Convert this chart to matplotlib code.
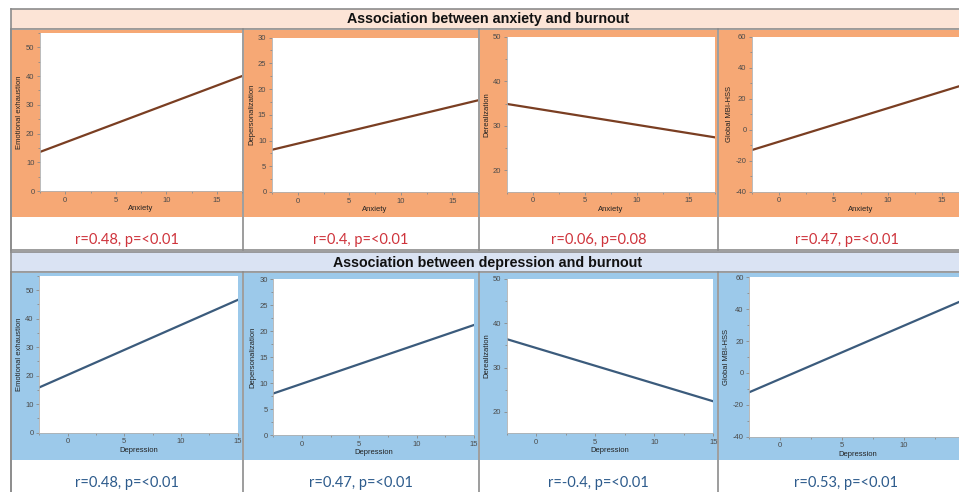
import matplotlib.pyplot as plt
from matplotlib.patches import Rectangle
from matplotlib.ticker import MultipleLocator, FixedLocator

plt.rcParams['axes.unicode_minus'] = False

# data
outcomes = ["Emotional exhaustion", "Depersonalization", "Derealization", "Global MBI-HSS"]
y_limits = [(0, 55), (0, 30), (15.2, 50), (-40, 60)]
y_major = [10, 5, 10, 20]

anxiety_x = [-2.5, 17.5]
anxiety_fit_start = [13.6, 8.2, 34.9, -13.1]
anxiety_fit_end = [40.0, 17.8, 27.4, 30.0]
anxiety_stats = ["r=0.48, p=<0.01", "r=0.4, p=<0.01", "r=0.06, p=0.08", "r=0.47, p=<0.01"]

depression_x = [-2.5, 15]
depression_fit_start = [15.9, 8.0, 36.4, -12.1]
depression_fit_end = [46.6, 21.2, 22.4, 46.4]
depression_stats = ["r=0.48, p=<0.01", "r=0.47, p=<0.01", "r=-0.4, p=<0.01", "r=0.53, p=<0.01"]

W, H = 959, 492
fig = plt.figure(figsize=(W / 100, H / 100), dpi=100)
bg = fig.add_axes([0, 0, 1, 1])
bg.set_xlim(0, W)
bg.set_ylim(H, 0)
bg.axis("off")

col_edges = [11, 243, 479, 718, 975]
grid_col = "#8c8c8c"


def px_axes(x0, y0, x1, y1):
    return fig.add_axes([x0 / W, 1 - y1 / H, (x1 - x0) / W, (y1 - y0) / H])


# section blocks: header row, panel row, text row
sections = [
    dict(top=9, head_bot=29, panel_bot=217, text_bot=250, text_y=240,
         head="#fce4d6", panel="#f6a875", line="#7a3e22", txt="#cf343c",
         title="Association between anxiety and burnout",
         xlab="Anxiety", xr=anxiety_x, y0=anxiety_fit_start, y1=anxiety_fit_end,
         stats=anxiety_stats,
         plots=[(40, 33, 242, 191), (272, 37.5, 478, 192), (507, 36.7, 715, 191.7), (752, 36.7, 969, 191.7)]),
    dict(top=252, head_bot=272, panel_bot=460, text_bot=495, text_y=483,
         head="#dae3f3", panel="#9cc9ea", line="#3b5b7c", txt="#2d5b8c",
         title="Association between depression and burnout",
         xlab="Depression", xr=depression_x, y0=depression_fit_start, y1=depression_fit_end,
         stats=depression_stats,
         plots=[(39.3, 276, 237.7, 432.7), (273.3, 279.3, 474, 435), (506.7, 278.7, 713.3, 433.3), (749.3, 277.3, 966, 436.7)]),
]

for s in sections:
    bg.add_patch(Rectangle((col_edges[0], s["top"]), W, s["head_bot"] - s["top"],
                           facecolor=s["head"], edgecolor="none"))
    bg.text(488, (s["top"] + s["head_bot"]) / 2 + 0.5, s["title"],
            ha="center", va="center", fontsize=10.3, fontweight="bold",
            family="Liberation Sans", color="#111111")
    bg.plot([col_edges[0], W], [s["top"], s["top"]], color=grid_col, lw=1.2)
    bg.plot([col_edges[0], W], [s["head_bot"], s["head_bot"]], color=grid_col, lw=1.2)
    for i in range(4):
        x0, x1 = col_edges[i], col_edges[i + 1]
        bg.add_patch(Rectangle((x0 + 1, s["head_bot"] + 1), x1 - x0 - 2, s["panel_bot"] - s["head_bot"] - 1,
                               facecolor=s["panel"], edgecolor="none"))
        bg.text((x0 + x1) / 2, s["text_y"], s["stats"][i],
                ha="center", va="center", fontsize=10.5, family="Lato", color=s["txt"])
        bg.plot([x0, x0], [s["head_bot"], s["text_bot"]], color=grid_col, lw=1.2)

        ax = px_axes(*s["plots"][i])
        ax.plot(s["xr"], [s["y0"][i], s["y1"][i]], color=s["line"], lw=1.6)
        ax.set_xlim(s["xr"])
        ax.set_ylim(y_limits[i])
        ax.xaxis.set_major_locator(MultipleLocator(5))
        ax.xaxis.set_minor_locator(MultipleLocator(2.5))
        ax.yaxis.set_major_locator(MultipleLocator(y_major[i]))
        ax.yaxis.set_minor_locator(MultipleLocator(y_major[i] / 2))
        # last column runs past the picture edge; drop labels that would be cut
        if s["plots"][i][0] + (s["plots"][i][2] - s["plots"][i][0]) * (15 - s["xr"][0]) / (s["xr"][1] - s["xr"][0]) > W - 8:
            ax.xaxis.set_major_locator(FixedLocator([0, 5, 10]))
        ax.tick_params(which="both", direction="out", colors="#8a8a8a", labelcolor="#4a4a4a",
                       labelsize=5.5, width=0.6, pad=1.5)
        ax.tick_params(which="major", length=2.5)
        ax.tick_params(which="minor", length=1.5)
        for side in ["top", "right"]:
            ax.spines[side].set_visible(False)
        for side in ["left", "bottom"]:
            ax.spines[side].set_color("#b0b0b0")
            ax.spines[side].set_linewidth(0.6)
        ax.set_xlabel(s["xlab"], fontsize=5.5, labelpad=1, color="#222222", family="Liberation Sans")
        ax.set_ylabel(outcomes[i], fontsize=5.5, labelpad=2, color="#222222", family="Liberation Sans")
        for lab in ax.get_xticklabels() + ax.get_yticklabels():
            lab.set_family("Liberation Sans")

# double line between the two sections
bg.plot([col_edges[0], W], [250, 250], color=grid_col, lw=1.2)
bg.plot([col_edges[0], col_edges[0]], [9, H], color=grid_col, lw=1.2)

fig.savefig("out.png", dpi=100)
